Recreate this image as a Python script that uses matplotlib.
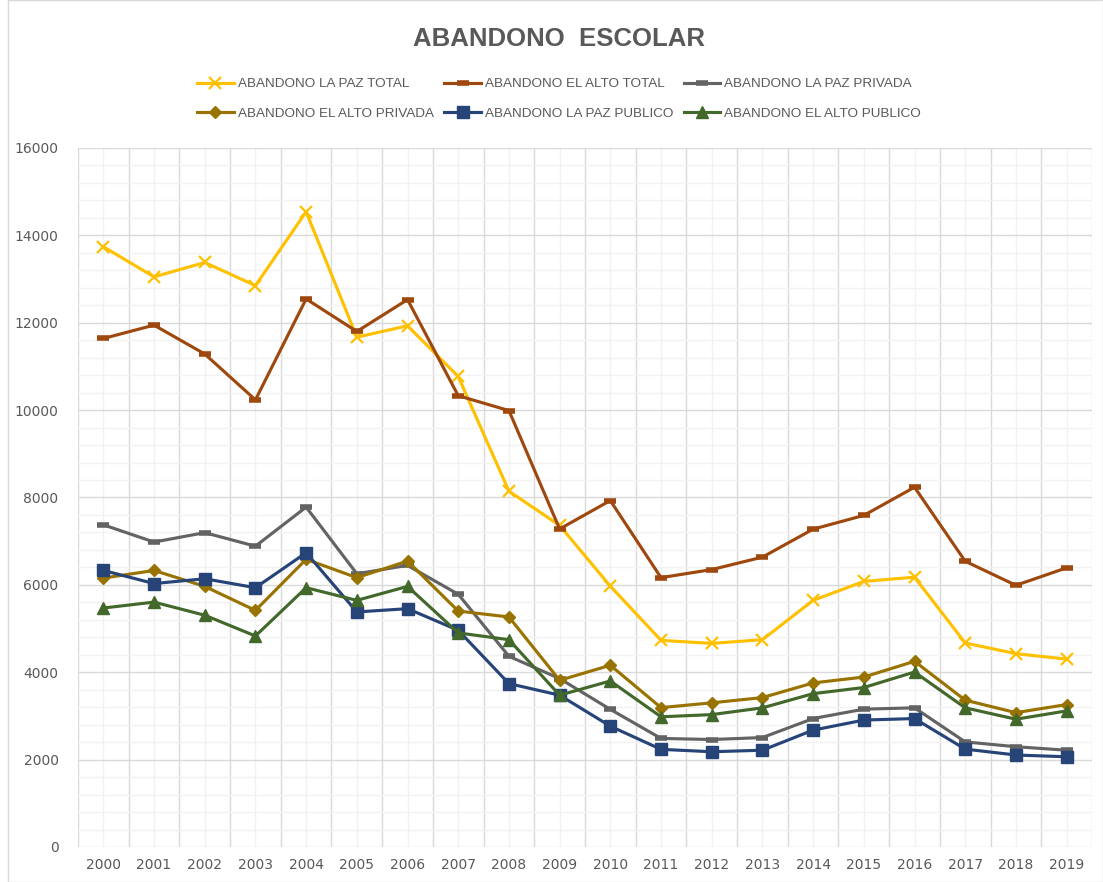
import matplotlib
matplotlib.use("Agg")
import matplotlib.pyplot as plt
from matplotlib.ticker import MultipleLocator, FixedLocator
import numpy as np

years = [str(y) for y in range(2000, 2020)]

lapaz_total = [13740, 13050, 13380, 12850, 14540, 11670, 11930, 10770, 8145, 7360,
               5970, 4730, 4660, 4745, 5645, 6080, 6175, 4670, 4425, 4300]
elalto_total = [11640, 11945, 11285, 10235, 12545, 11800, 12530, 10330, 9990, 7280,
                7930, 6165, 6350, 6635, 7275, 7590, 8235, 6540, 5990, 6390]
lapaz_privada = [7375, 6980, 7195, 6885, 7780, 6255, 6445, 5785, 4365, 3855,
                 3150, 2485, 2460, 2505, 2940, 3155, 3185, 2405, 2295, 2215]
elalto_privada = [6155, 6330, 5965, 5415, 6585, 6165, 6545, 5400, 5265, 3815,
                  4160, 3190, 3300, 3420, 3755, 3890, 4250, 3360, 3075, 3260]
lapaz_publico = [6330, 6030, 6140, 5935, 6735, 5380, 5455, 4960, 3740, 3475,
                 2765, 2235, 2180, 2215, 2675, 2905, 2940, 2240, 2105, 2065]
elalto_publico = [5470, 5605, 5305, 4830, 5935, 5645, 5965, 4900, 4745, 3475,
                  3800, 2980, 3030, 3185, 3510, 3650, 4005, 3185, 2925, 3115]

labels = ["ABANDONO LA PAZ TOTAL", "ABANDONO EL ALTO TOTAL", "ABANDONO LA PAZ PRIVADA",
          "ABANDONO EL ALTO PRIVADA", "ABANDONO LA PAZ PUBLICO", "ABANDONO EL ALTO PUBLICO"]
series = [lapaz_total, elalto_total, lapaz_privada, elalto_privada, lapaz_publico, elalto_publico]
colors = ["#FFC000", "#9E480E", "#636363", "#997300", "#264478", "#43682B"]
markers = ["x", "_", "_", "D", "s", "^"]
msizes = [9, 9, 9, 6.5, 9, 8]
mews = [1.6, 4, 4, 1, 1, 1]

plt.rcParams['font.family'] = ['Liberation Sans', 'DejaVu Sans']

fig = plt.figure(figsize=(11.03, 8.82), dpi=100)
ax = fig.add_axes([0.0707, 0.0397, 0.9193, 0.7925])

x = np.arange(len(years))
handles = []
for s, lab, c, m, ms, mew in zip(series, labels, colors, markers, msizes, mews):
    h, = ax.plot(x, s, color=c, marker=m, markersize=ms, markeredgewidth=mew,
                 markerfacecolor=c, markeredgecolor=c, linewidth=2.25, label=lab, zorder=3)
    handles.append(h)

ax.set_xlim(-0.5, len(years) - 0.5)
ax.set_ylim(0, 16000)
ax.xaxis.set_major_locator(FixedLocator(x))
ax.set_xticklabels(years)
ax.xaxis.set_minor_locator(FixedLocator(np.arange(-0.5, len(years), 1.0)))
ax.yaxis.set_major_locator(MultipleLocator(2000))
ax.yaxis.set_minor_locator(MultipleLocator(400))

ax.grid(which='minor', axis='y', color='#F2F2F2', linewidth=1, zorder=0)
ax.grid(which='major', axis='y', color='#D9D9D9', linewidth=1, zorder=0)
ax.grid(which='major', axis='x', color='#F2F2F2', linewidth=1, zorder=0)
ax.grid(which='minor', axis='x', color='#D9D9D9', linewidth=1, zorder=0)
ax.set_axisbelow(True)
for sp in ax.spines.values():
    sp.set_visible(False)
ax.tick_params(which='both', length=0)
ax.tick_params(axis='y', labelsize=10, labelcolor='#595959', pad=14)
ax.tick_params(axis='x', labelsize=10, labelcolor='#595959', pad=8)
for t in ax.get_xticklabels() + ax.get_yticklabels():
    t.set_family('DejaVu Sans')

fig.text(0.507, 0.956, "ABANDONO  ESCOLAR", ha='center', va='center',
         fontsize=18.5, fontweight='bold', color='#595959')

order = [0, 3, 1, 4, 2, 5]
fig.legend([handles[i] for i in order], [labels[i] for i in order], ncol=3,
           loc='center', bbox_to_anchor=(0.507, 0.888), frameon=False,
           fontsize=9.7, labelcolor='#595959', handlelength=2.7, handletextpad=0.3,
           columnspacing=0.8, labelspacing=1.25)

# chart border
fig.patches.append(plt.Rectangle((0.007, 0.0), 0.993, 1.0, transform=fig.transFigure,
                                 fill=False, edgecolor='#D9D9D9', linewidth=1))

fig.savefig("out.png", dpi=100)
